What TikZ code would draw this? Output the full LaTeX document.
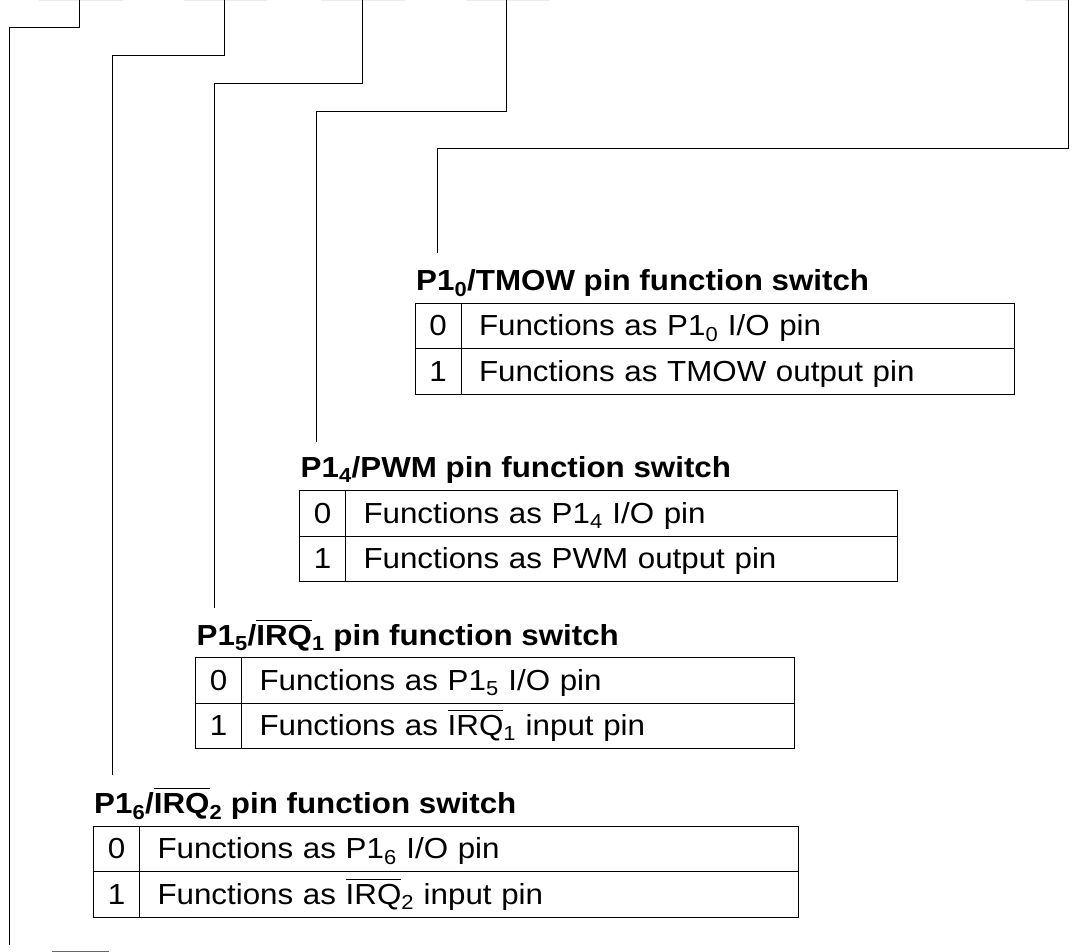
\documentclass[tikz,border=0pt]{standalone}
\usepackage{fontspec}
\setmainfont{Liberation Sans}[FakeStretch=1.08]
\usepackage{tikz}
\usetikzlibrary{positioning}

\newcommand{\ovl}[1]{\leavevmode\vbox{\hrule height 1.2pt\kern 4pt\hbox{#1}}}

\begin{document}
\fontsize{29}{33}\selectfont
\begin{tikzpicture}[x=1pt,y=-1pt,
  lead/.style={line width=1pt},
  head/.style={font=\bfseries,anchor=base west,inner sep=0pt},
  bitcell/.style={draw,line width=1pt,anchor=north west,inner sep=0pt,outer sep=0pt,minimum width=46pt,minimum height=45.5pt,text height=22.5pt,text depth=3pt},
  desc/.style={bitcell,align=left,inner xsep=18pt,text width=#1}]
  \useasboundingbox (0,0) rectangle (1074,952);
  % cut-off cells along the top and bottom edge
  \foreach \a/\b in {39/123,184/267,321/405,466/550,1025/1068} \draw[black!8,line width=2pt] (\a,0.5) -- (\b,0.5);
  \draw[line width=1pt,black!60] (52,951.5) -- (109,951.5);

  % bit leads
  \coordinate (top1) at (79,0); \coordinate (turn1) at (9,28); \coordinate (end1) at (9,945);
  \coordinate (top6) at (224,0); \coordinate (turn6) at (112,56); \coordinate (end6) at (112,775);
  \coordinate (top5) at (362,0); \coordinate (turn5) at (214,84); \coordinate (end5) at (214,608);
  \coordinate (top4) at (506,0); \coordinate (turn4) at (316,112); \coordinate (end4) at (316,442);
  \coordinate (top0) at (1068,0); \coordinate (turn0) at (437,149); \coordinate (end0) at (437,253);
  \foreach \k in {1,6,5,4,0} \draw[lead] (top\k) |- (turn\k) -- (end\k);

  % P1_0 / TMOW
  \node[head] (h0) at (416,290.5) {P1\textsubscript{0}/TMOW pin function switch};
  \node[bitcell] (b0a) at (415,303) {0};
  \node[desc=517.5pt] (d0a) at (b0a.north east) {Functions as P1\textsubscript{0} I/O pin};
  \node[bitcell] (b0b) at (b0a.south west) {1};
  \node[desc=517.5pt] (d0b) at (b0b.north east) {Functions as TMOW output pin};

  % P1_4 / PWM
  \node[head] (h4) at (300.5,477.5) {P1\textsubscript{4}/PWM pin function switch};
  \node[bitcell] (b4a) at (299.5,490.5) {0};
  \node[desc=516pt] (d4a) at (b4a.north east) {Functions as P1\textsubscript{4} I/O pin};
  \node[bitcell] (b4b) at (b4a.south west) {1};
  \node[desc=516pt] (d4b) at (b4b.north east) {Functions as PWM output pin};

  % P1_5 / IRQ1
  \node[head] (h5) at (196.5,645) {P1\textsubscript{5}/\ovl{IRQ}\textsubscript{1} pin function switch};
  \node[bitcell] (b5a) at (195.5,657.5) {0};
  \node[desc=516.5pt] (d5a) at (b5a.north east) {Functions as P1\textsubscript{5} I/O pin};
  \node[bitcell] (b5b) at (b5a.south west) {1};
  \node[desc=516.5pt] (d5b) at (b5b.north east) {Functions as \ovl{IRQ}\textsubscript{1} input pin};

  % P1_6 / IRQ2
  \node[head] (h6) at (94,813.5) {P1\textsubscript{6}/\ovl{IRQ}\textsubscript{2} pin function switch};
  \node[bitcell] (b6a) at (93.5,826) {0};
  \node[desc=623pt] (d6a) at (b6a.north east) {Functions as P1\textsubscript{6} I/O pin};
  \node[bitcell] (b6b) at (b6a.south west) {1};
  \node[desc=623pt] (d6b) at (b6b.north east) {Functions as \ovl{IRQ}\textsubscript{2} input pin};
\end{tikzpicture}
\end{document}
